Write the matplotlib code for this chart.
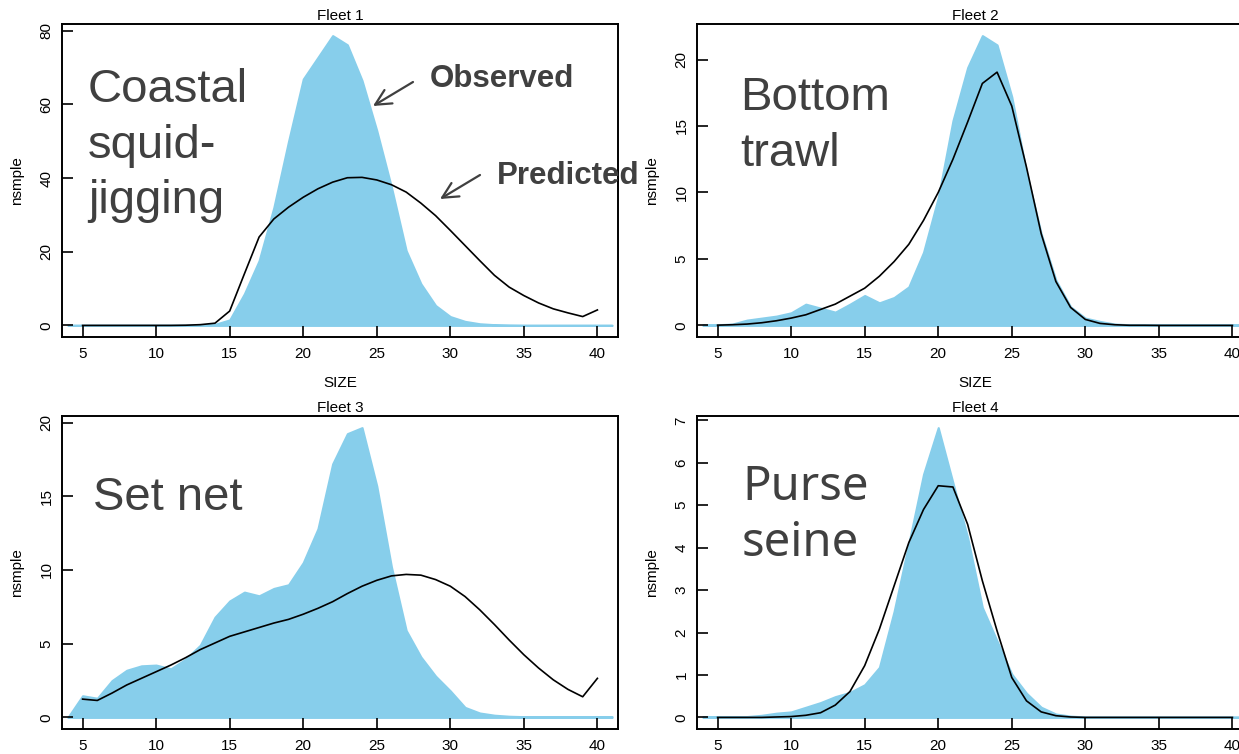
"""
Length composition fits: observed (filled) vs predicted (line) for four fleets.
Output: out.png
"""

import numpy as np
import matplotlib.pyplot as plt

plt.rcParams.update({
    "font.family": ["Liberation Sans", "DejaVu Sans"],
    "font.size": 11,
    "xtick.direction": "in",
    "ytick.direction": "in",
    "axes.linewidth": 1.4,
})

# size bins
size_obs = list(range(4, 42))
size_pred = list(range(5, 41))

fleet_titles = ["Fleet 1", "Fleet 2", "Fleet 3", "Fleet 4"]

obs_fleet1 = [0.05, 0.05, 0.05, 0.05, 0.05, 0.05, 0.05, 0.05, 0.05, 0.1,
              0.3, 1.5, 8.6, 17.6, 32.0, 50.0, 66.9, 72.8, 78.7, 76.2,
              66.5, 52.9, 37.5, 20.3, 11.3, 5.4, 2.4, 1.1, 0.45, 0.2,
              0.1, 0.05, 0.05, 0.05, 0.05, 0.05, 0.05, 0.05]
pred_fleet1 = [0, 0, 0, 0, 0, 0, 0, 0.05, 0.2, 0.6,
               3.9, 14.0, 24.0, 28.9, 32.1, 34.8, 37.1, 38.9, 40.1, 40.2,
               39.5, 38.2, 36.2, 33.2, 29.8, 25.8, 21.7, 17.6, 13.6, 10.4,
               8.1, 6.1, 4.5, 3.4, 2.4, 4.2]

obs_fleet2 = [0.05, 0.05, 0.1, 0.4, 0.55, 0.7, 0.95, 1.6, 1.3, 1.0,
              1.6, 2.25, 1.7, 2.1, 2.9, 5.5, 9.6, 15.4, 19.4, 21.8,
              21.1, 17.2, 11.5, 6.9, 3.4, 1.4, 0.55, 0.3, 0.1, 0.05,
              0.05, 0.05, 0.05, 0.05, 0.05, 0.05, 0.05, 0.05]
pred_fleet2 = [0.02, 0.05, 0.1, 0.2, 0.35, 0.55, 0.8, 1.2, 1.6, 2.2,
               2.8, 3.7, 4.8, 6.1, 7.9, 10.0, 12.5, 15.3, 18.2, 19.05,
               16.5, 11.9, 6.9, 3.3, 1.35, 0.45, 0.15, 0.05, 0.01, 0.01,
               0, 0, 0, 0, 0, 0]

obs_fleet3 = [0, 1.47, 1.3, 2.5, 3.2, 3.5, 3.55, 3.3, 3.95, 4.9,
              6.8, 7.9, 8.5, 8.25, 8.75, 9.0, 10.5, 12.8, 17.2, 19.25,
              19.66, 15.7, 10.2, 5.9, 4.1, 2.8, 1.8, 0.68, 0.3, 0.15,
              0.08, 0.05, 0.05, 0.05, 0.05, 0.05, 0.05, 0.05]
pred_fleet3 = [1.24, 1.15, 1.65, 2.2, 2.65, 3.1, 3.55, 4.05, 4.6, 5.05,
               5.5, 5.8, 6.1, 6.4, 6.65, 7.0, 7.4, 7.85, 8.4, 8.9,
               9.3, 9.6, 9.7, 9.65, 9.35, 8.9, 8.2, 7.3, 6.3, 5.25,
               4.25, 3.35, 2.55, 1.9, 1.4, 2.65]

obs_fleet4 = [0.02, 0.02, 0.02, 0.02, 0.05, 0.1, 0.13, 0.24, 0.35, 0.49,
              0.59, 0.77, 1.18, 2.5, 4.1, 5.73, 6.83, 5.53, 4.24, 2.59,
              1.8, 1.02, 0.57, 0.24, 0.08, 0.03, 0.01, 0.01, 0.01, 0.01,
              0.01, 0.01, 0.01, 0.01, 0.01, 0.01, 0.01, 0.01]
pred_fleet4 = [0, 0, 0, 0, 0.01, 0.02, 0.05, 0.11, 0.29, 0.61,
               1.22, 2.08, 3.1, 4.12, 4.9, 5.46, 5.43, 4.55, 3.22, 2.04,
               0.94, 0.39, 0.13, 0.04, 0.01, 0, 0, 0, 0, 0,
               0, 0, 0, 0, 0, 0]

y_ticks = [[0, 20, 40, 60, 80], [0, 5, 10, 15, 20], [0, 5, 10, 15, 20],
           [0, 1, 2, 3, 4, 5, 6, 7]]
x_ticks = [5, 10, 15, 20, 25, 30, 35, 40]

W, H = 1239, 754
OBS_COLOR = "#87CEEB"
TEXT_COLOR = "#404040"


def px(x, y):
    """Pixel position (from top-left) to figure fraction."""
    return x / W, 1 - y / H


def add_panel(fig, box, title, obs, pred, yt, show_xlabel):
    left, top, right, bottom = box
    ax = fig.add_axes([left / W, 1 - bottom / H, (right - left) / W, (bottom - top) / H])
    ax.fill_between(size_obs, obs, 0, color=OBS_COLOR, edgecolor=OBS_COLOR,
                    linewidth=1.5, zorder=1)
    ax.plot(size_pred, pred, color="black", linewidth=1.2, zorder=2)
    # R-style axis extents: 4% padding around data range
    ax.set_xlim(5 - 0.04 * 35, 40 + 0.04 * 35)
    top_val = max(max(obs), max(pred))
    ax.set_ylim(-0.04 * top_val, top_val * 1.04)
    ax.set_xticks(x_ticks)
    ax.set_yticks(yt)
    ax.tick_params(axis="x", length=8, width=1.2, pad=7, labelsize=11)
    ax.tick_params(axis="y", length=8, width=1.2, pad=6, labelsize=11,
                   labelrotation=90)
    for lab in ax.get_yticklabels():
        lab.set_va("center")
    ax.set_title(title, fontsize=11, pad=3)
    # bottom row's SIZE label falls below the cropped picture
    if show_xlabel:
        ax.set_xlabel("SIZE", fontsize=11, labelpad=11)
    ax.set_ylabel("nsmple", fontsize=11, labelpad=11)
    return ax


def big_label(fig, lines, x, baselines, family="Liberation Sans"):
    for line, yb in zip(lines, baselines):
        fig.text(*px(x, yb), line, fontsize=34, color=TEXT_COLOR,
                 va="baseline", ha="left", family=family)


fig = plt.figure(figsize=(W / 100, H / 100), dpi=100)

boxes = [(62, 24, 618, 337), (697, 24, 1253, 337),
         (62, 416, 618, 729), (697, 416, 1253, 729)]
obs_all = [obs_fleet1, obs_fleet2, obs_fleet3, obs_fleet4]
pred_all = [pred_fleet1, pred_fleet2, pred_fleet3, pred_fleet4]

axes = []
for i, (box, title, obs, pred, yt) in enumerate(zip(boxes, fleet_titles, obs_all, pred_all, y_ticks)):
    axes.append(add_panel(fig, box, title, obs, pred, yt, show_xlabel=i < 2))

# fleet names overlaid on panels
big_label(fig, ["Coastal", "squid-", "jigging"], 88, [102, 158, 213])
big_label(fig, ["Bottom", "trawl"], 740, [110, 166])
big_label(fig, ["Set net"], 93, [510])
big_label(fig, ["Purse", "seine"], 742, [500, 556], family="Noto Sans")

# observed / predicted callouts
fig.text(*px(430, 87), "Observed", fontsize=22.5, fontweight="bold",
         color=TEXT_COLOR, va="baseline", ha="left")
fig.text(*px(497, 184), "Predicted", fontsize=22.5, fontweight="bold",
         color=TEXT_COLOR, va="baseline", ha="left")
arrow_kw = dict(arrowstyle="->", color=TEXT_COLOR, lw=1.6,
                mutation_scale=28, shrinkA=0, shrinkB=0)
axes[0].annotate("", xy=(373, H - 106), xytext=(413, H - 82),
                 xycoords="figure pixels", textcoords="figure pixels",
                 arrowprops=arrow_kw, annotation_clip=False)
axes[0].annotate("", xy=(440, H - 199), xytext=(480, H - 175),
                 xycoords="figure pixels", textcoords="figure pixels",
                 arrowprops=arrow_kw, annotation_clip=False)

fig.savefig("out.png", dpi=100)
